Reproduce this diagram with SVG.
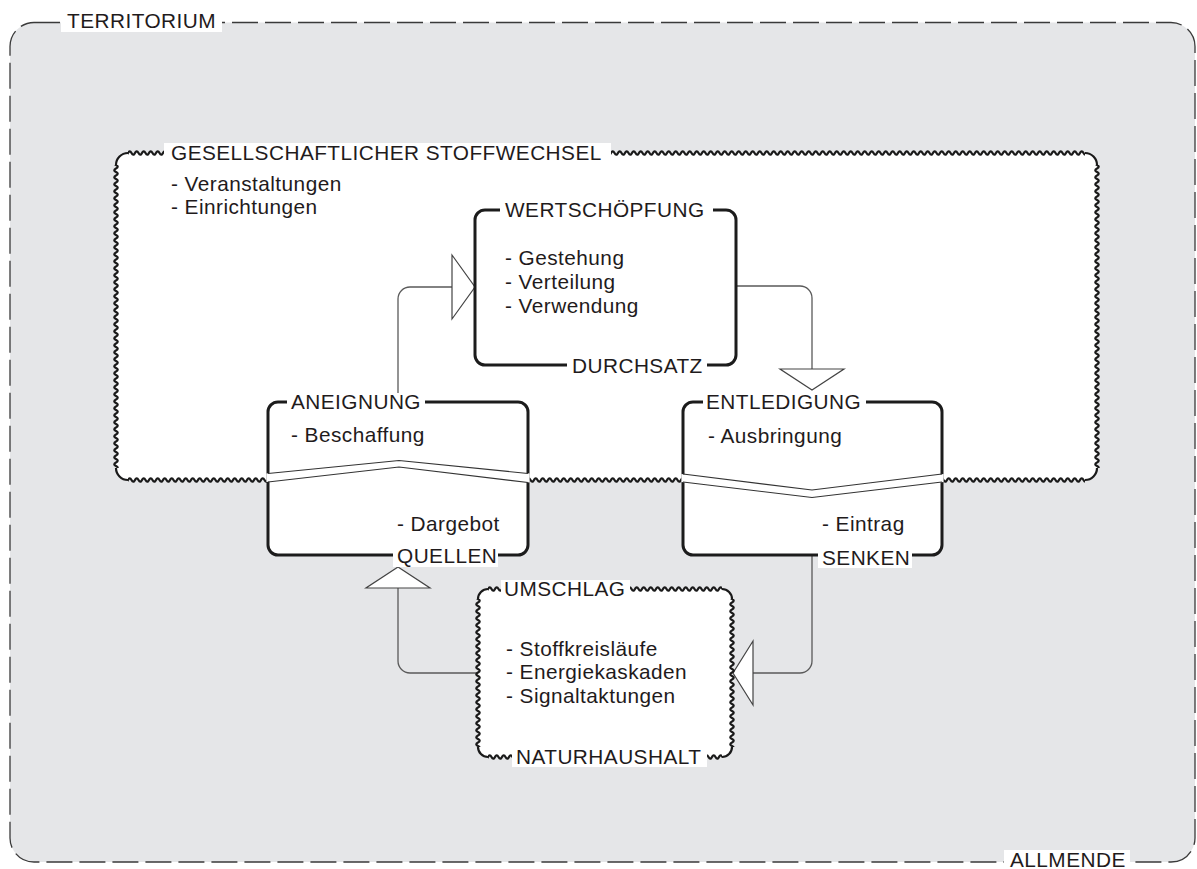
<svg xmlns="http://www.w3.org/2000/svg" width="1197" height="869" viewBox="0 0 1197 869">
  <style>
    .txt { font-family: "Liberation Sans", Arial, sans-serif; font-size: 20.8px; letter-spacing: 0.45px; fill: #1f1b1c; }
    .lblbg { fill: #ffffff; }
    .box { fill: #ffffff; stroke: #1c1c1c; stroke-width: 3; }
    .zig { fill: none; stroke: #333333; stroke-width: 1.2; }
    .gap { fill: #ffffff; stroke: none; }
    .conn { fill: none; stroke: #5a5a5a; stroke-width: 1.3; }
    .head { fill: #ffffff; stroke: #444444; stroke-width: 1.2; stroke-linejoin: miter; }
    .corner { fill: none; stroke: #1a1a1a; stroke-width: 2.2; }
  </style>
  <defs>
    <!-- wavy border tiles: horizontal and vertical -->
    <pattern id="waveH" width="7" height="10" patternUnits="userSpaceOnUse">
      <path d="M-7,5 q1.75,-3.4 3.5,0 t3.5,0 t3.5,0 t3.5,0 t3.5,0 t3.5,0" fill="none" stroke="#1a1a1a" stroke-width="2.2"/>
    </pattern>
    <pattern id="waveV" width="10" height="7" patternUnits="userSpaceOnUse">
      <path d="M5,-7 q3.4,1.75 0,3.5 t0,3.5 t0,3.5 t0,3.5 t0,3.5 t0,3.5" fill="none" stroke="#1a1a1a" stroke-width="2.2"/>
    </pattern>
  </defs>

  <!-- TERRITORIUM / ALLMENDE frame -->
  <g id="territorium">
    <rect x="10" y="22.5" width="1185" height="839.5" rx="24" fill="#e5e6e8" stroke="#3a3a3a" stroke-width="1.3" stroke-dasharray="26 7"/>
  </g>

  <!-- GESELLSCHAFTLICHER STOFFWECHSEL (wavy outline) -->
  <g id="stoffwechsel">
    <rect x="116" y="153" width="981" height="327" rx="12" fill="#ffffff"/>
    <g transform="translate(128,148)"><rect width="957" height="10" fill="url(#waveH)"/></g>
    <g transform="translate(128,475)"><rect width="957" height="10" fill="url(#waveH)"/></g>
    <g transform="translate(111,165)"><rect width="10" height="303" fill="url(#waveV)"/></g>
    <g transform="translate(1092,165)"><rect width="10" height="303" fill="url(#waveV)"/></g>
    <path class="corner" d="M116,165 a12,12 0 0 1 12,-12 M1085,153 a12,12 0 0 1 12,12 M1097,468 a12,12 0 0 1 -12,12 M128,480 a12,12 0 0 1 -12,-12"/>
  </g>

  <!-- connectors -->
  <g id="connectors">
    <path class="conn" d="M398,402 V299 a12,12 0 0 1 12,-12 H452"/>
    <polygon class="head" points="452,255 475,287 452,319"/>
    <path class="conn" d="M736,286 H800 a12,12 0 0 1 12,12 V369"/>
    <polygon class="head" points="780,369 844,369 812,390"/>
    <path class="conn" d="M812,555 V661 a12,12 0 0 1 -12,12 H753"/>
    <polygon class="head" points="753,641 753,705 733,673"/>
    <path class="conn" d="M478,673 H410 a12,12 0 0 1 -12,-12 V588"/>
    <polygon class="head" points="366,588 430,588 398,567"/>
  </g>

  <!-- WERTSCHÖPFUNG -->
  <g id="wertschoepfung">
    <rect class="box" x="475" y="210" width="261" height="155" rx="10"/>
    <rect class="lblbg" x="500" y="201" width="213" height="18"/>
    <text class="txt" x="505" y="217">WERTSCHÖPFUNG</text>
    <text class="txt" x="505" y="265">- Gestehung</text>
    <text class="txt" x="505" y="289">- Verteilung</text>
    <text class="txt" x="505" y="313">- Verwendung</text>
    <rect class="lblbg" x="567" y="356" width="140" height="18"/>
    <text class="txt" x="572" y="373">DURCHSATZ</text>
  </g>

  <!-- ANEIGNUNG / QUELLEN -->
  <g id="aneignung">
    <rect class="box" x="268" y="402" width="260" height="153" rx="10"/>
    <polygon class="gap" points="266.4,473.5 399,460.5 529.6,473.5 529.6,482.5 399,467 266.4,482"/>
    <path class="zig" d="M268,473.5 L399,460.5 L528,473.5 M268,482 L399,467 L528,482.5"/>
    <rect class="lblbg" x="287" y="393" width="138" height="18"/>
    <text class="txt" x="291" y="409">ANEIGNUNG</text>
    <text class="txt" x="291" y="442">- Beschaffung</text>
    <text class="txt" x="397" y="531">- Dargebot</text>
    <rect class="lblbg" x="393" y="546" width="105" height="21"/>
    <text class="txt" x="397" y="563">QUELLEN</text>
  </g>

  <!-- ENTLEDIGUNG / SENKEN -->
  <g id="entledigung">
    <rect class="box" x="683" y="402" width="259" height="153" rx="10"/>
    <polygon class="gap" points="681.4,474 812,490 943.6,474 943.6,482 812,497.5 681.4,482"/>
    <path class="zig" d="M683,474 L812,490 L942,474 M683,482 L812,497.5 L942,482"/>
    <rect class="lblbg" x="703" y="393" width="163" height="18"/>
    <text class="txt" x="706" y="409">ENTLEDIGUNG</text>
    <text class="txt" x="708" y="443">- Ausbringung</text>
    <text class="txt" x="822" y="531">- Eintrag</text>
    <rect class="lblbg" x="818" y="547" width="94" height="21"/>
    <text class="txt" x="822" y="565">SENKEN</text>
  </g>

  <!-- UMSCHLAG / NATURHAUSHALT (wavy outline) -->
  <g id="umschlag">
    <rect x="478" y="589" width="254" height="168" rx="10" fill="#ffffff"/>
    <g transform="translate(488,584)"><rect width="234" height="10" fill="url(#waveH)"/></g>
    <g transform="translate(488,752)"><rect width="234" height="10" fill="url(#waveH)"/></g>
    <g transform="translate(473,599)"><rect width="10" height="148" fill="url(#waveV)"/></g>
    <g transform="translate(727,599)"><rect width="10" height="148" fill="url(#waveV)"/></g>
    <path class="corner" d="M478,599 a10,10 0 0 1 10,-10 M722,589 a10,10 0 0 1 10,10 M732,747 a10,10 0 0 1 -10,10 M488,757 a10,10 0 0 1 -10,-10"/>
    <rect class="lblbg" x="501" y="580" width="129" height="19"/>
    <text class="txt" x="504" y="596">UMSCHLAG</text>
    <text class="txt" x="506" y="656">- Stoffkreisläufe</text>
    <text class="txt" x="506" y="679">- Energiekaskaden</text>
    <text class="txt" x="506" y="703">- Signaltaktungen</text>
    <rect class="lblbg" x="512" y="747" width="195" height="20"/>
    <text class="txt" x="516" y="764">NATURHAUSHALT</text>
  </g>

  <!-- frame and outer-region labels -->
  <g id="frame-labels">
    <rect class="lblbg" x="61" y="12" width="161" height="20"/>
    <text class="txt" x="67" y="28">TERRITORIUM</text>
    <rect class="lblbg" x="1004" y="850" width="126" height="19"/>
    <text class="txt" x="1010" y="867">ALLMENDE</text>
    <rect class="lblbg" x="164" y="143" width="447" height="18"/>
    <text class="txt" x="171" y="160">GESELLSCHAFTLICHER STOFFWECHSEL</text>
    <text class="txt" x="171" y="191">- Veranstaltungen</text>
    <text class="txt" x="171" y="214">- Einrichtungen</text>
  </g>
</svg>
